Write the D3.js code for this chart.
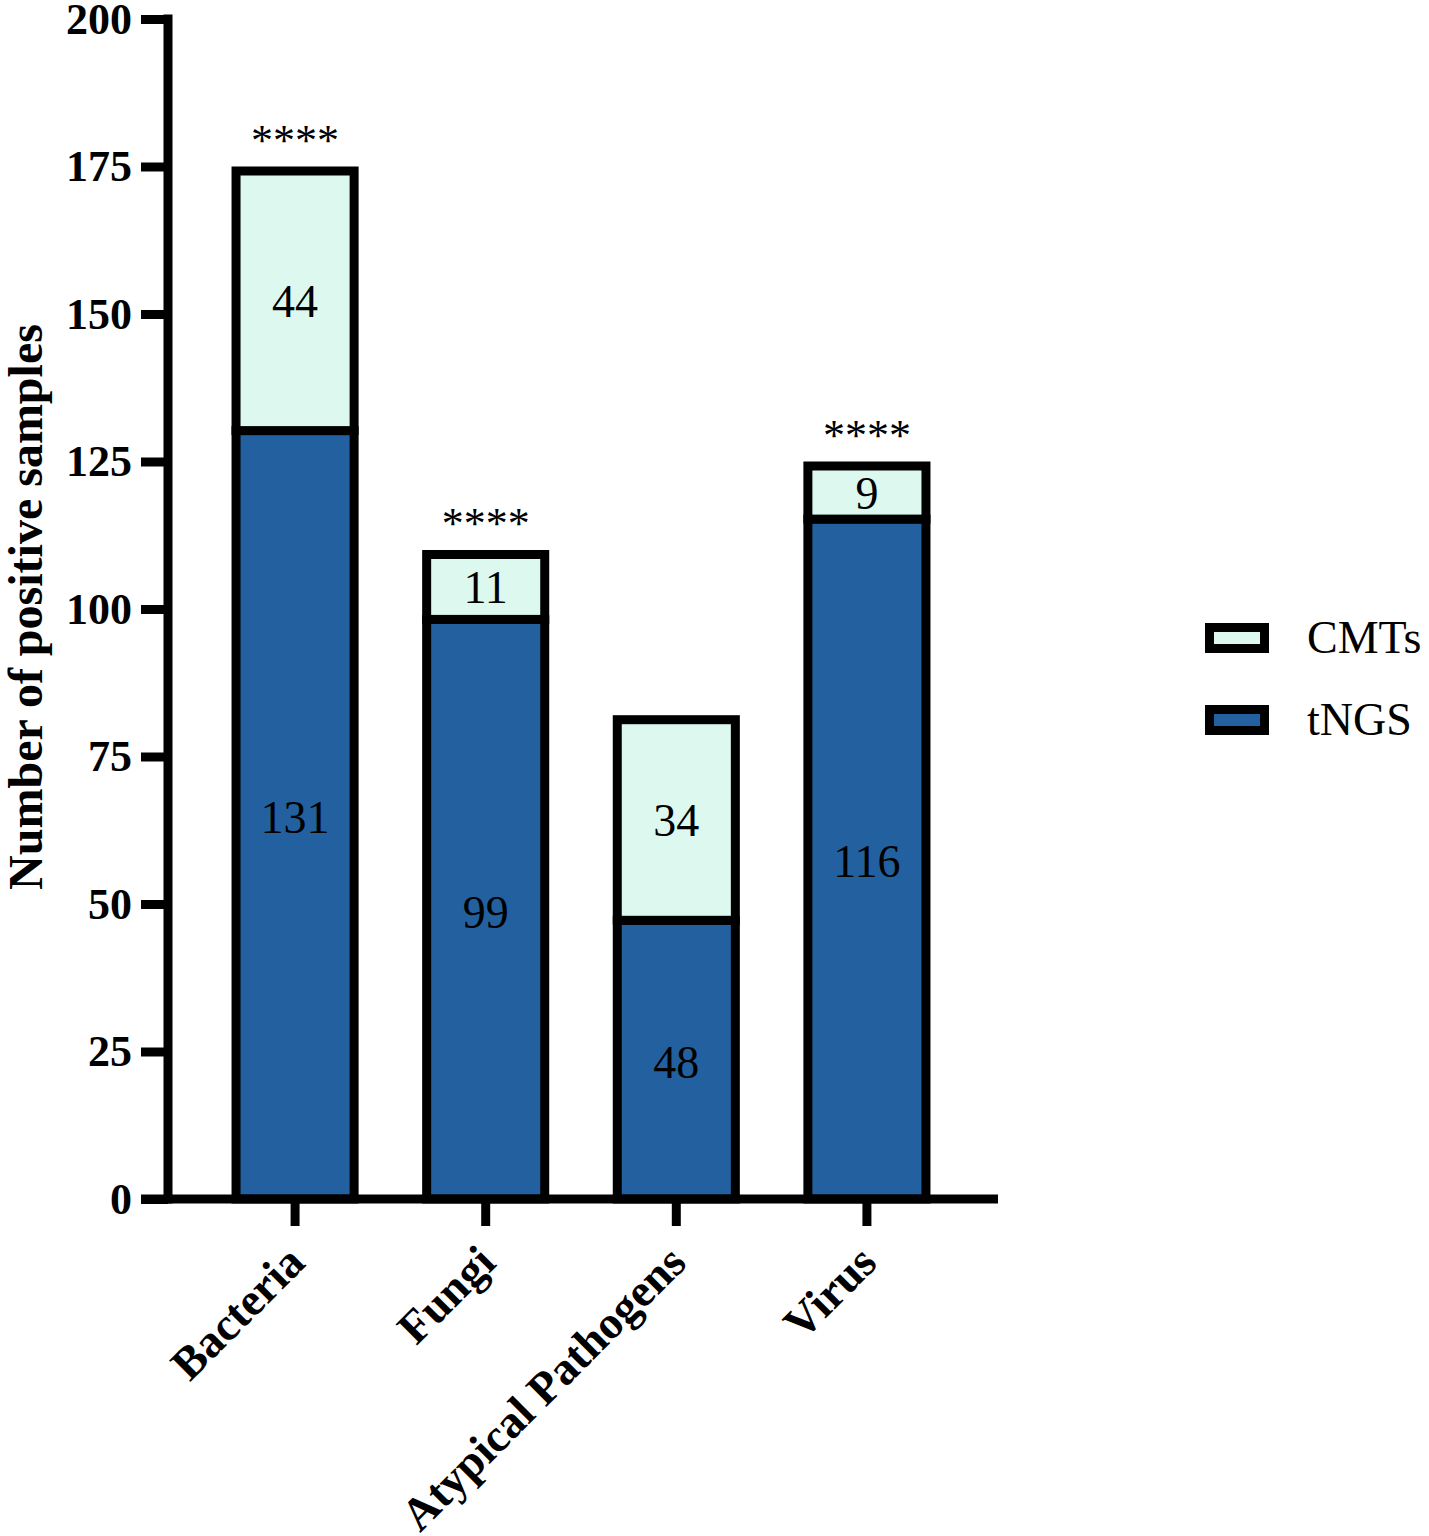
<!DOCTYPE html>
<html>
<head>
<meta charset="utf-8">
<script src="https://cdn.jsdelivr.net/npm/d3@7"></script>
<style>
  body { margin: 0; background: #fff; }
  svg { display: block; }
  text { font-family: "Liberation Serif", "Times New Roman", serif; fill: #000; }
</style>
</head>
<body>
<div id="chart"></div>
<script>
var categories = ['Bacteria', 'Fungi', 'Atypical Pathogens', 'Virus'];
var tngs = [131, 99, 48, 116];
var cmts = [44, 11, 34, 9];
var stars = ['****', '****', '', '****'];
var yTicks = [0, 25, 50, 75, 100, 125, 150, 175, 200];
var seriesNames = ['CMTs', 'tNGS'];
var seriesColors = ['#dcf8ef', '#2260a0'];

var width = 1429;
var height = 1536;
var sw = 9;

var svg = d3.select('#chart')
    .append('svg')
    .attr('width', width)
    .attr('height', height);

// Scales
var x = d3.scaleBand()
    .domain(categories)
    .range([168, 994])
    .paddingInner(1 / 3)
    .paddingOuter(1 / 3);

var y = d3.scaleLinear()
    .domain([0, 200])
    .range([1199, 19]);

// Stack data
var stacks = categories.map(function(c, i) {
  return [
    {cat: c, name: 'tNGS', v: tngs[i], y0: 0, y1: tngs[i], color: seriesColors[1]},
    {cat: c, name: 'CMTs', v: cmts[i], y0: tngs[i], y1: tngs[i] + cmts[i], color: seriesColors[0]}
  ];
});
var segs = d3.merge(stacks);

// Bars
svg.selectAll('rect.seg')
    .data(segs)
    .enter()
    .append('rect')
    .attr('class', 'seg')
    .attr('x', function(d) { return x(d.cat) + sw / 2; })
    .attr('width', x.bandwidth() - sw)
    .attr('y', function(d) { return y(d.y1) + sw / 2; })
    .attr('height', function(d) {
      var h = y(d.y0) - y(d.y1);
      return d.y0 === 0 ? h - sw / 2 : h;
    })
    .attr('fill', function(d) { return d.color; })
    .attr('stroke', '#000')
    .attr('stroke-width', sw);

// Value labels
svg.selectAll('text.val')
    .data(segs)
    .enter()
    .append('text')
    .attr('class', 'val')
    .attr('x', function(d) { return x(d.cat) + x.bandwidth() / 2; })
    .attr('y', function(d) { return (y(d.y0) + y(d.y1)) / 2 + sw / 2; })
    .attr('dy', '0.35em')
    .attr('text-anchor', 'middle')
    .style('font-size', '46px')
    .text(function(d) { return d.v; });

// Significance stars
svg.selectAll('text.star')
    .data(categories)
    .enter()
    .append('text')
    .attr('class', 'star')
    .attr('x', function(d) { return x(d) + x.bandwidth() / 2; })
    .attr('y', function(d, i) { return y(tngs[i] + cmts[i]) - 12; })
    .attr('text-anchor', 'middle')
    .style('font-size', '44px')
    .text(function(d, i) { return stars[i]; });

// Y axis
var yAxis = svg.append('g')
    .attr('transform', 'translate(168,0)')
    .call(d3.axisLeft(y).tickValues(yTicks).tickSize(27).tickPadding(9));
yAxis.select('.domain').remove();
yAxis.selectAll('.tick line').attr('stroke', '#000').attr('stroke-width', sw);
yAxis.selectAll('.tick text')
    .style('font-family', '"Liberation Serif", "Times New Roman", serif')
    .style('font-size', '44px')
    .style('font-weight', 'bold')
    .attr('fill', '#000');
svg.append('line')
    .attr('x1', 168).attr('x2', 168)
    .attr('y1', y(200) - sw / 2).attr('y2', y(0) + sw / 2)
    .attr('stroke', '#000')
    .attr('stroke-width', sw);

// X axis
var xAxis = svg.append('g')
    .attr('transform', 'translate(0,' + y(0) + ')')
    .call(d3.axisBottom(x).tickSize(27).tickFormat(''));
xAxis.select('.domain').remove();
xAxis.selectAll('.tick line').attr('stroke', '#000').attr('stroke-width', sw);
svg.append('line')
    .attr('x1', 141).attr('x2', 998)
    .attr('y1', y(0)).attr('y2', y(0))
    .attr('stroke', '#000')
    .attr('stroke-width', sw);

svg.selectAll('text.cat')
    .data(categories)
    .enter()
    .append('text')
    .attr('class', 'cat')
    .attr('transform', function(d) {
      return 'translate(' + (x(d) + x.bandwidth() / 2 + 12) + ',1265) rotate(-45)';
    })
    .attr('text-anchor', 'end')
    .style('font-size', '46px')
    .style('font-weight', 'bold')
    .text(function(d) { return d; });

// Y axis title
svg.append('text')
    .attr('transform', 'translate(42,607) rotate(-90)')
    .attr('text-anchor', 'middle')
    .style('font-size', '48px')
    .style('font-weight', 'bold')
    .text('Number of positive samples');

// Legend
var legend = svg.selectAll('g.legend')
    .data(seriesNames)
    .enter()
    .append('g')
    .attr('class', 'legend')
    .attr('transform', function(d, i) { return 'translate(1209.5,' + (627.5 + i * 82) + ')'; });
legend.append('rect')
    .attr('width', 55)
    .attr('height', 21)
    .attr('fill', function(d, i) { return seriesColors[i]; })
    .attr('stroke', '#000')
    .attr('stroke-width', sw);
legend.append('text')
    .attr('x', 97.5)
    .attr('y', 25.5)
    .style('font-size', '46px')
    .text(function(d) { return d; });
</script>
</body>
</html>
